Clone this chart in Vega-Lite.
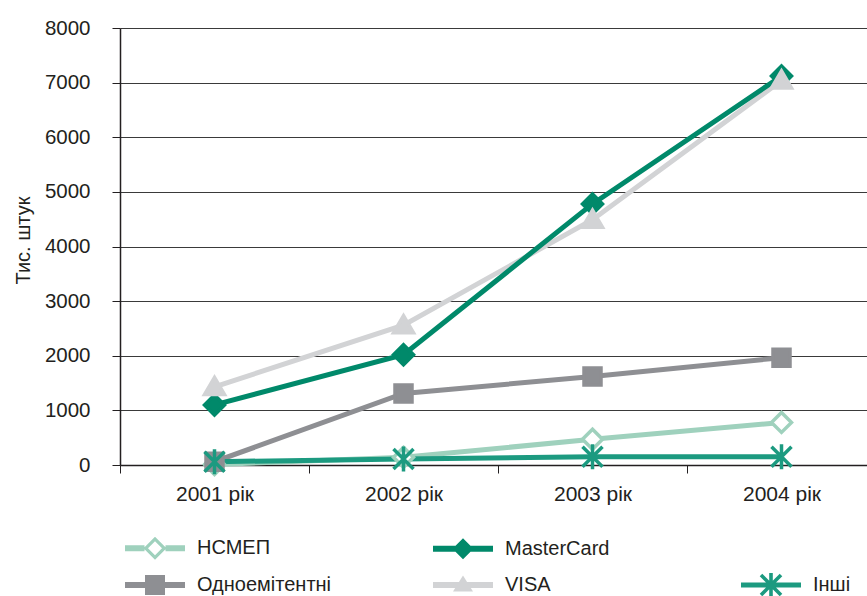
{
  "$schema": "https://vega.github.io/schema/vega-lite/v6.json",
  "width": 747,
  "height": 437,
  "autosize": {"type": "none"},
  "padding": {"left": 120, "top": 28, "right": 0, "bottom": 131},
  "background": "white",
  "config": {"view": {"stroke": null}, "font": "Liberation Sans"},
  "data": {
    "values": [
      {"year": "2001 рік", "series": "НСМЕП", "value": 10},
      {"year": "2002 рік", "series": "НСМЕП", "value": 140},
      {"year": "2003 рік", "series": "НСМЕП", "value": 470},
      {"year": "2004 рік", "series": "НСМЕП", "value": 780},
      {"year": "2001 рік", "series": "Одноемітентні", "value": 60},
      {"year": "2002 рік", "series": "Одноемітентні", "value": 1310},
      {"year": "2003 рік", "series": "Одноемітентні", "value": 1620},
      {"year": "2004 рік", "series": "Одноемітентні", "value": 1965},
      {"year": "2001 рік", "series": "VISA", "value": 1430},
      {"year": "2002 рік", "series": "VISA", "value": 2560},
      {"year": "2003 рік", "series": "VISA", "value": 4490},
      {"year": "2004 рік", "series": "VISA", "value": 7040},
      {"year": "2001 рік", "series": "MasterCard", "value": 1100},
      {"year": "2002 рік", "series": "MasterCard", "value": 2020},
      {"year": "2003 рік", "series": "MasterCard", "value": 4780},
      {"year": "2004 рік", "series": "MasterCard", "value": 7120},
      {"year": "2001 рік", "series": "Інші", "value": 60},
      {"year": "2002 рік", "series": "Інші", "value": 110},
      {"year": "2003 рік", "series": "Інші", "value": 150},
      {"year": "2004 рік", "series": "Інші", "value": 150}
    ]
  },
  "encoding": {
    "x": {
      "field": "year",
      "type": "nominal",
      "sort": ["2001 рік", "2002 рік", "2003 рік", "2004 рік"],
      "scale": {"type": "band", "range": [0, 756], "paddingInner": 0, "paddingOuter": 0},
      "axis": {
        "title": null,
        "labelAngle": 0,
        "labelFontSize": 21,
        "labelColor": "#231f20",
        "labelPadding": 10,
        "tickBand": "extent",
        "tickSize": 8,
        "tickColor": "#231f20",
        "tickWidth": 1,
        "domainColor": "#231f20",
        "domainWidth": 1.5,
        "grid": false
      }
    },
    "y": {
      "field": "value",
      "type": "quantitative",
      "scale": {"domain": [0, 8000], "nice": false},
      "axis": {
        "title": "Тис. штук",
        "titleFontSize": 20,
        "titleFontWeight": "normal",
        "titleColor": "#231f20",
        "titleAngle": -90,
        "titleX": -91,
        "titleY": 212,
        "titleAlign": "center",
        "titleBaseline": "alphabetic",
        "values": [0, 1000, 2000, 3000, 4000, 5000, 6000, 7000, 8000],
        "format": "d",
        "labelFontSize": 20.5,
        "labelColor": "#231f20",
        "labelPadding": 22,
        "tickSize": 8,
        "tickColor": "#231f20",
        "domainColor": "#231f20",
        "domainWidth": 1.5,
        "grid": true,
        "gridColor": "#3a3a3a",
        "gridWidth": 1
      }
    }
  },
  "layer": [
    {
      "mark": {"type": "line", "strokeWidth": 5},
      "encoding": {
        "stroke": {
          "field": "series",
          "type": "nominal",
          "scale": {
            "domain": ["НСМЕП", "Одноемітентні", "VISA", "MasterCard", "Інші"],
            "range": ["#9fd1bd", "#8e8f93", "#d2d3d5", "#00896a", "#1c9a80"]
          },
          "legend": null
        }
      }
    },
    {
      "transform": [{"filter": "datum.series == 'НСМЕП'"}],
      "mark": {"type": "point", "filled": true, "shape": "M0,-1L1,0L0,1L-1,0Z", "size": 400, "fill": "#ffffff", "stroke": "#9fd1bd", "strokeWidth": 3.5, "opacity": 1}
    },
    {
      "transform": [{"filter": "datum.series == 'Одноемітентні'"}],
      "mark": {"type": "point", "filled": true, "shape": "M-0.85,-0.85H0.85V0.85H-0.85Z", "size": 400, "fill": "#8e8f93", "stroke": "#8e8f93", "strokeWidth": 3.5, "opacity": 1}
    },
    {
      "transform": [{"filter": "datum.series == 'MasterCard'"}],
      "mark": {"type": "point", "filled": true, "shape": "M0,-1L1,0L0,1L-1,0Z", "size": 400, "fill": "#00896a", "stroke": "#00896a", "strokeWidth": 3.5, "opacity": 1}
    },
    {
      "transform": [{"filter": "datum.series == 'VISA'"}],
      "mark": {"type": "point", "filled": true, "shape": "M0,-0.95L1,0.75H-1Z", "size": 400, "fill": "#d2d3d5", "stroke": "#d2d3d5", "strokeWidth": 3.5, "opacity": 1}
    },
    {
      "transform": [{"filter": "datum.series == 'Інші'"}],
      "mark": {"type": "point", "filled": false, "shape": "M-1,-1L1,1M1,-1L-1,1M0,-1.25V1.25", "size": 400, "stroke": "#1c9a80", "strokeWidth": 3.5, "opacity": 1}
    },
    {
      "transform": [{"filter": "false"}],
      "mark": {"type": "point", "filled": true, "opacity": 1},
      "encoding": {
        "shape": {
          "field": "series",
          "type": "nominal",
          "scale": {
            "domain": ["НСМЕП", "MasterCard", " ", "Одноемітентні", "VISA", "Інші"],
            "range": [
              "M-3,-0.3H-1.05V0.3H-3Z M1.05,-0.3H3V0.3H1.05Z M0,-1.15L1.15,0L0,1.15L-1.15,0Z M0,-0.7L-0.7,0L0,0.7L0.7,0Z",
              "M-3,-0.3H3V0.3H-3Z M0,-1.05L1.05,0L0,1.05L-1.05,0Z",
              "M0,0H0.01V0.01H0Z",
              "M-3,-0.3H3V0.3H-3Z M-1,-1H1V1H-1Z",
              "M-3,-0.3H3V0.3H-3Z M0,-0.95L1,0.65H-1Z",
              "M-3,-0.25H3V0.25H-3Z M-0.18,-1.2H0.18V1.2H-0.18Z M-0.873,-1.127L1.127,0.873L0.873,1.127L-1.127,-0.873Z M0.873,-1.127L1.127,-0.873L-0.873,1.127L-1.127,0.873Z"
            ]
          },
          "legend": {
            "orient": "none",
            "legendX": 25,
            "legendY": 510,
            "columns": 3,
            "direction": "horizontal",
            "gridAlign": "all",
            "title": null,
            "symbolSize": 400,
            "symbolStrokeWidth": 0,
            "labelFontSize": 20,
            "labelColor": "#231f20",
            "labelOffset": 32,
            "columnPadding": 101,
            "rowPadding": 13,
            "padding": 0,
            "labelLimit": 300
          }
        },
        "color": {
          "field": "series",
          "type": "nominal",
          "scale": {
            "domain": ["НСМЕП", "MasterCard", " ", "Одноемітентні", "VISA", "Інші"],
            "range": ["#9fd1bd", "#00896a", "transparent", "#8e8f93", "#d2d3d5", "#1c9a80"]
          },
          "legend": {
            "orient": "none",
            "legendX": 25,
            "legendY": 510,
            "columns": 3,
            "direction": "horizontal",
            "gridAlign": "all",
            "title": null,
            "symbolSize": 400,
            "symbolStrokeWidth": 0,
            "labelFontSize": 20,
            "labelColor": "#231f20",
            "labelOffset": 32,
            "columnPadding": 101,
            "rowPadding": 13,
            "padding": 0,
            "labelLimit": 300
          }
        }
      }
    }
  ]
}
